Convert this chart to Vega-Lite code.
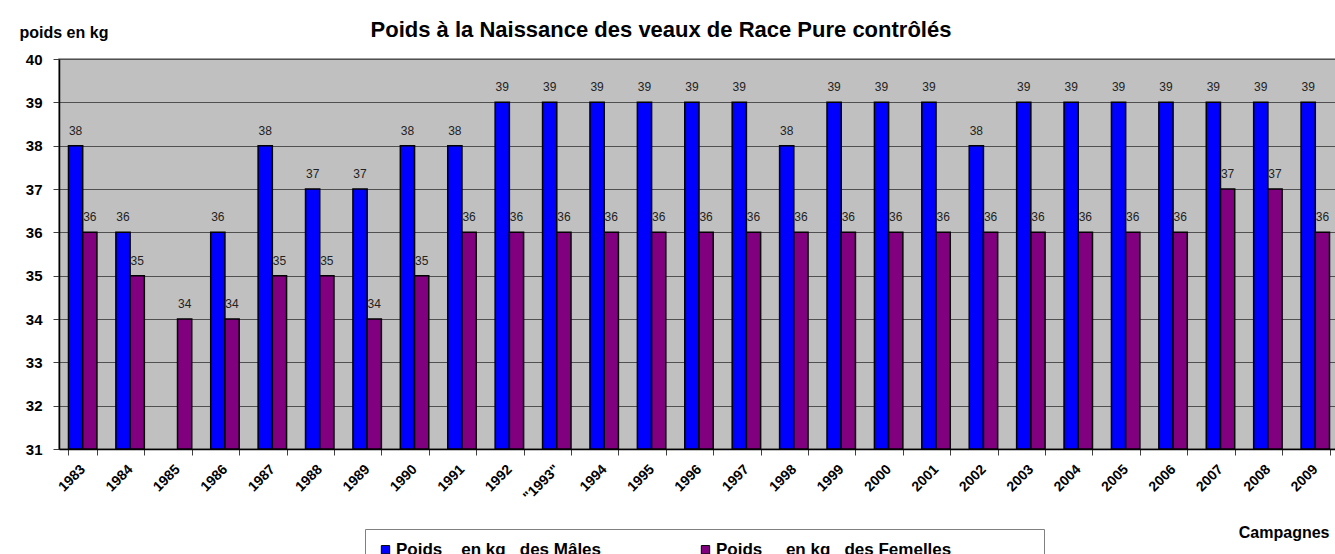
{
  "$schema": "https://vega.github.io/schema/vega-lite/v6.json",
  "width": 1280,
  "height": 390,
  "autosize": "none",
  "padding": {"left": 59, "top": 59, "right": 0, "bottom": 105},
  "background": "white",
  "title": {
    "text": "Poids à la Naissance des veaux de Race Pure contrôlés",
    "font": "Liberation Sans",
    "fontSize": 22,
    "fontWeight": "bold",
    "color": "black",
    "anchor": "middle",
    "dx": -38,
    "offset": -18
  },
  "config": {
    "font": "Liberation Sans",
    "view": {"fill": "#C0C0C0", "stroke": "#808080", "strokeWidth": 1.5}
  },
  "data": {
    "values": [
      {"annee": "1983", "serie": "M", "poids": 38},
      {"annee": "1983", "serie": "F", "poids": 36},
      {"annee": "1984", "serie": "M", "poids": 36},
      {"annee": "1984", "serie": "F", "poids": 35},
      {"annee": "1985", "serie": "F", "poids": 34},
      {"annee": "1986", "serie": "M", "poids": 36},
      {"annee": "1986", "serie": "F", "poids": 34},
      {"annee": "1987", "serie": "M", "poids": 38},
      {"annee": "1987", "serie": "F", "poids": 35},
      {"annee": "1988", "serie": "M", "poids": 37},
      {"annee": "1988", "serie": "F", "poids": 35},
      {"annee": "1989", "serie": "M", "poids": 37},
      {"annee": "1989", "serie": "F", "poids": 34},
      {"annee": "1990", "serie": "M", "poids": 38},
      {"annee": "1990", "serie": "F", "poids": 35},
      {"annee": "1991", "serie": "M", "poids": 38},
      {"annee": "1991", "serie": "F", "poids": 36},
      {"annee": "1992", "serie": "M", "poids": 39},
      {"annee": "1992", "serie": "F", "poids": 36},
      {"annee": "\"1993\"", "serie": "M", "poids": 39},
      {"annee": "\"1993\"", "serie": "F", "poids": 36},
      {"annee": "1994", "serie": "M", "poids": 39},
      {"annee": "1994", "serie": "F", "poids": 36},
      {"annee": "1995", "serie": "M", "poids": 39},
      {"annee": "1995", "serie": "F", "poids": 36},
      {"annee": "1996", "serie": "M", "poids": 39},
      {"annee": "1996", "serie": "F", "poids": 36},
      {"annee": "1997", "serie": "M", "poids": 39},
      {"annee": "1997", "serie": "F", "poids": 36},
      {"annee": "1998", "serie": "M", "poids": 38},
      {"annee": "1998", "serie": "F", "poids": 36},
      {"annee": "1999", "serie": "M", "poids": 39},
      {"annee": "1999", "serie": "F", "poids": 36},
      {"annee": "2000", "serie": "M", "poids": 39},
      {"annee": "2000", "serie": "F", "poids": 36},
      {"annee": "2001", "serie": "M", "poids": 39},
      {"annee": "2001", "serie": "F", "poids": 36},
      {"annee": "2002", "serie": "M", "poids": 38},
      {"annee": "2002", "serie": "F", "poids": 36},
      {"annee": "2003", "serie": "M", "poids": 39},
      {"annee": "2003", "serie": "F", "poids": 36},
      {"annee": "2004", "serie": "M", "poids": 39},
      {"annee": "2004", "serie": "F", "poids": 36},
      {"annee": "2005", "serie": "M", "poids": 39},
      {"annee": "2005", "serie": "F", "poids": 36},
      {"annee": "2006", "serie": "M", "poids": 39},
      {"annee": "2006", "serie": "F", "poids": 36},
      {"annee": "2007", "serie": "M", "poids": 39},
      {"annee": "2007", "serie": "F", "poids": 37},
      {"annee": "2008", "serie": "M", "poids": 39},
      {"annee": "2008", "serie": "F", "poids": 37},
      {"annee": "2009", "serie": "M", "poids": 39},
      {"annee": "2009", "serie": "F", "poids": 36}
    ]
  },
  "encoding": {
    "x": {
      "field": "annee",
      "type": "nominal",
      "sort": null,
      "scale": {"paddingInner": 0.4, "paddingOuter": 0.2},
      "axis": {
        "title": "Campagnes",
        "titleFont": "Liberation Sans",
        "titleFontSize": 16,
        "titleFontWeight": "bold",
        "titleColor": "black",
        "titleX": 1270,
        "titleY": 83,
        "titleAlign": "right",
        "titleBaseline": "middle",
        "labelAngle": -45,
        "labelAlign": "right",
        "labelBaseline": "middle",
        "labelFontSize": 14,
        "labelFontWeight": "bold",
        "labelColor": "black",
        "labelPadding": 12,
        "tickBand": "extent",
        "tickSize": 6,
        "tickColor": "#404040",
        "domainColor": "black",
        "domainWidth": 1.5,
        "grid": false
      }
    },
    "xOffset": {
      "field": "serie",
      "type": "nominal",
      "sort": null,
      "scale": {"domain": ["M", "F"], "paddingInner": 0, "paddingOuter": 0}
    }
  },
  "layer": [
    {
      "mark": {"type": "bar", "stroke": "black", "strokeWidth": 1.5},
      "encoding": {
        "y": {
          "field": "poids",
          "type": "quantitative",
          "scale": {"domain": [31, 40], "zero": false, "nice": false},
          "axis": {
            "title": "poids en kg",
            "titleAngle": 0,
            "titleX": -40,
            "titleY": -27,
            "titleAlign": "left",
            "titleBaseline": "middle",
            "titleFontSize": 16,
            "titleFontWeight": "bold",
            "titleColor": "black",
            "values": [31, 32, 33, 34, 35, 36, 37, 38, 39, 40],
            "labelFontSize": 15,
            "labelFontWeight": "bold",
            "labelColor": "black",
            "labelPadding": 11,
            "tickSize": 6,
            "tickColor": "#404040",
            "domainColor": "black",
            "domainWidth": 1.5,
            "grid": true,
            "gridColor": "#505050",
            "gridWidth": 1
          }
        },
        "y2": {"datum": 31},
        "color": {
          "field": "serie",
          "type": "nominal",
          "scale": {"domain": ["M", "F"], "range": ["#0000FF", "#800080"]},
          "legend": {
            "title": null,
            "orient": "none",
            "legendX": 306,
            "legendY": 470,
            "direction": "horizontal",
            "symbolType": "square",
            "symbolSize": 70,
            "symbolStrokeColor": "black",
            "symbolStrokeWidth": 1,
            "symbolOpacity": 1,
            "labelExpr": "datum.value == 'M' ? 'Poids\u00a0\u00a0\u00a0\u00a0en kg\u00a0\u00a0\u00a0des Mâles' : 'Poids\u00a0\u00a0\u00a0\u00a0\u00a0en kg\u00a0\u00a0\u00a0des Femelles\u00a0\u00a0\u00a0\u00a0\u00a0\u00a0\u00a0\u00a0\u00a0\u00a0\u00a0\u00a0\u00a0\u00a0\u00a0\u00a0\u00a0\u200b'",
            "labelFontSize": 17,
            "labelFontWeight": "bold",
            "labelColor": "black",
            "labelOffset": 2,
            "labelLimit": 600,
            "columnPadding": 95,
            "padding": 12,
            "strokeColor": "#808080",
            "fillColor": "white"
          }
        }
      }
    },
    {
      "mark": {"type": "text", "baseline": "bottom", "dy": -8, "fontSize": 12, "color": "#222222"},
      "encoding": {
        "y": {"field": "poids", "type": "quantitative", "scale": {"domain": [31, 40], "zero": false, "nice": false}},
        "text": {"field": "poids", "type": "quantitative"}
      }
    }
  ]
}
